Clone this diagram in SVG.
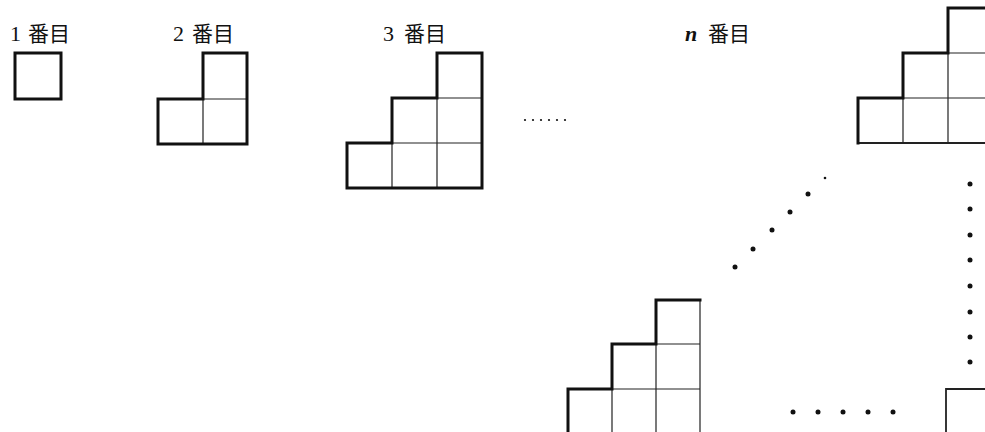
<svg xmlns="http://www.w3.org/2000/svg" width="985" height="432" viewBox="0 0 985 432">
<style>
.bg{fill:#fff}
.bold{fill:none;stroke:#111;stroke-width:3;stroke-linejoin:miter;stroke-linecap:square}
.mid{fill:none;stroke:#222;stroke-width:1.8}
.thin{fill:none;stroke:#222;stroke-width:1.2}
.lbl{font-family:"Liberation Serif","Noto Sans CJK JP",serif;font-size:22px;fill:#111}
.kj{font-family:"Noto Sans CJK JP",sans-serif;font-size:21px;fill:#111}
.nv{font-family:"Liberation Serif",serif;font-style:italic;font-weight:bold}
.dot{fill:#111}
</style>
<rect class="bg" x="0" y="0" width="985" height="432"/>
<g id="label1"><text class="lbl" x="10" y="41">1<tspan class="kj" x="28">番目</tspan></text></g>
<g id="label2"><text class="lbl" x="173" y="41">2<tspan class="kj" x="192">番目</tspan></text></g>
<g id="label3"><text class="lbl" x="383" y="41">3<tspan class="kj" x="404">番目</tspan></text></g>
<g id="labeln"><text class="lbl" x="685" y="41"><tspan class="nv">n</tspan><tspan class="kj" x="708">番目</tspan></text></g>
<g id="fig1"><rect class="bold" x="15" y="53" width="46" height="46"/></g>
<g id="fig2">
<path class="thin" d="M203,99 V144 M203,99 H247"/>
<path class="bold" d="M203,53 H247 V144 H158 V99 H203 Z"/>
</g>
<g id="fig3">
<path class="thin" d="M437,98 H482 M392,143 H482 M392,143 V188 M437,98 V188"/>
<path class="bold" d="M437,53 H482 V188 H347 V143 H392 V98 H437 Z"/>
</g>
<g id="dots-ellipsis">
<circle class="dot" cx="525" cy="120" r="1.1"/>
<circle class="dot" cx="533" cy="120" r="1.1"/>
<circle class="dot" cx="541" cy="120" r="1.1"/>
<circle class="dot" cx="549" cy="120" r="1.1"/>
<circle class="dot" cx="557" cy="120" r="1.1"/>
<circle class="dot" cx="565" cy="120" r="1.1"/>
</g>
<g id="fign-top">
<path class="thin" d="M948,53 H985 M903,98 H985 M903,98 V143 M948,53 V143"/>
<path class="mid" d="M858,143 H985"/>
<path class="bold" d="M987,8 H948 V53 H903 V98 H858 V143"/>
</g>
<g id="fign-bottom">
<path class="thin" d="M656,344 H700 M612,389 H700 M612,389 V434 M656,344 V434 M700,300 V434"/>
<path class="bold" d="M568,434 V389 H612 V344 H656 V300 H700"/>
</g>
<g id="fign-corner">
<path class="mid" d="M987,389 H946 V434"/>
</g>
<g id="dots-diagonal">
<circle class="dot" cx="735" cy="267" r="2.5"/>
<circle class="dot" cx="753" cy="249" r="2.5"/>
<circle class="dot" cx="772" cy="230" r="2.5"/>
<circle class="dot" cx="790" cy="212" r="2.5"/>
<circle class="dot" cx="808" cy="194" r="2.5"/>
<circle class="dot" cx="825" cy="178" r="1.3"/>
</g>
<g id="dots-vertical">
<circle class="dot" cx="970" cy="184" r="2.5"/>
<circle class="dot" cx="970" cy="209" r="2.5"/>
<circle class="dot" cx="970" cy="235" r="2.5"/>
<circle class="dot" cx="970" cy="260" r="2.5"/>
<circle class="dot" cx="970" cy="286" r="2.5"/>
<circle class="dot" cx="970" cy="312" r="2.5"/>
<circle class="dot" cx="970" cy="337" r="2.5"/>
<circle class="dot" cx="970" cy="362" r="2.5"/>
</g>
<g id="dots-horizontal">
<circle class="dot" cx="793" cy="412" r="2.5"/>
<circle class="dot" cx="818" cy="412" r="2.5"/>
<circle class="dot" cx="843" cy="412" r="2.5"/>
<circle class="dot" cx="868" cy="412" r="2.5"/>
<circle class="dot" cx="893" cy="412" r="2.5"/>
</g>
</svg>
